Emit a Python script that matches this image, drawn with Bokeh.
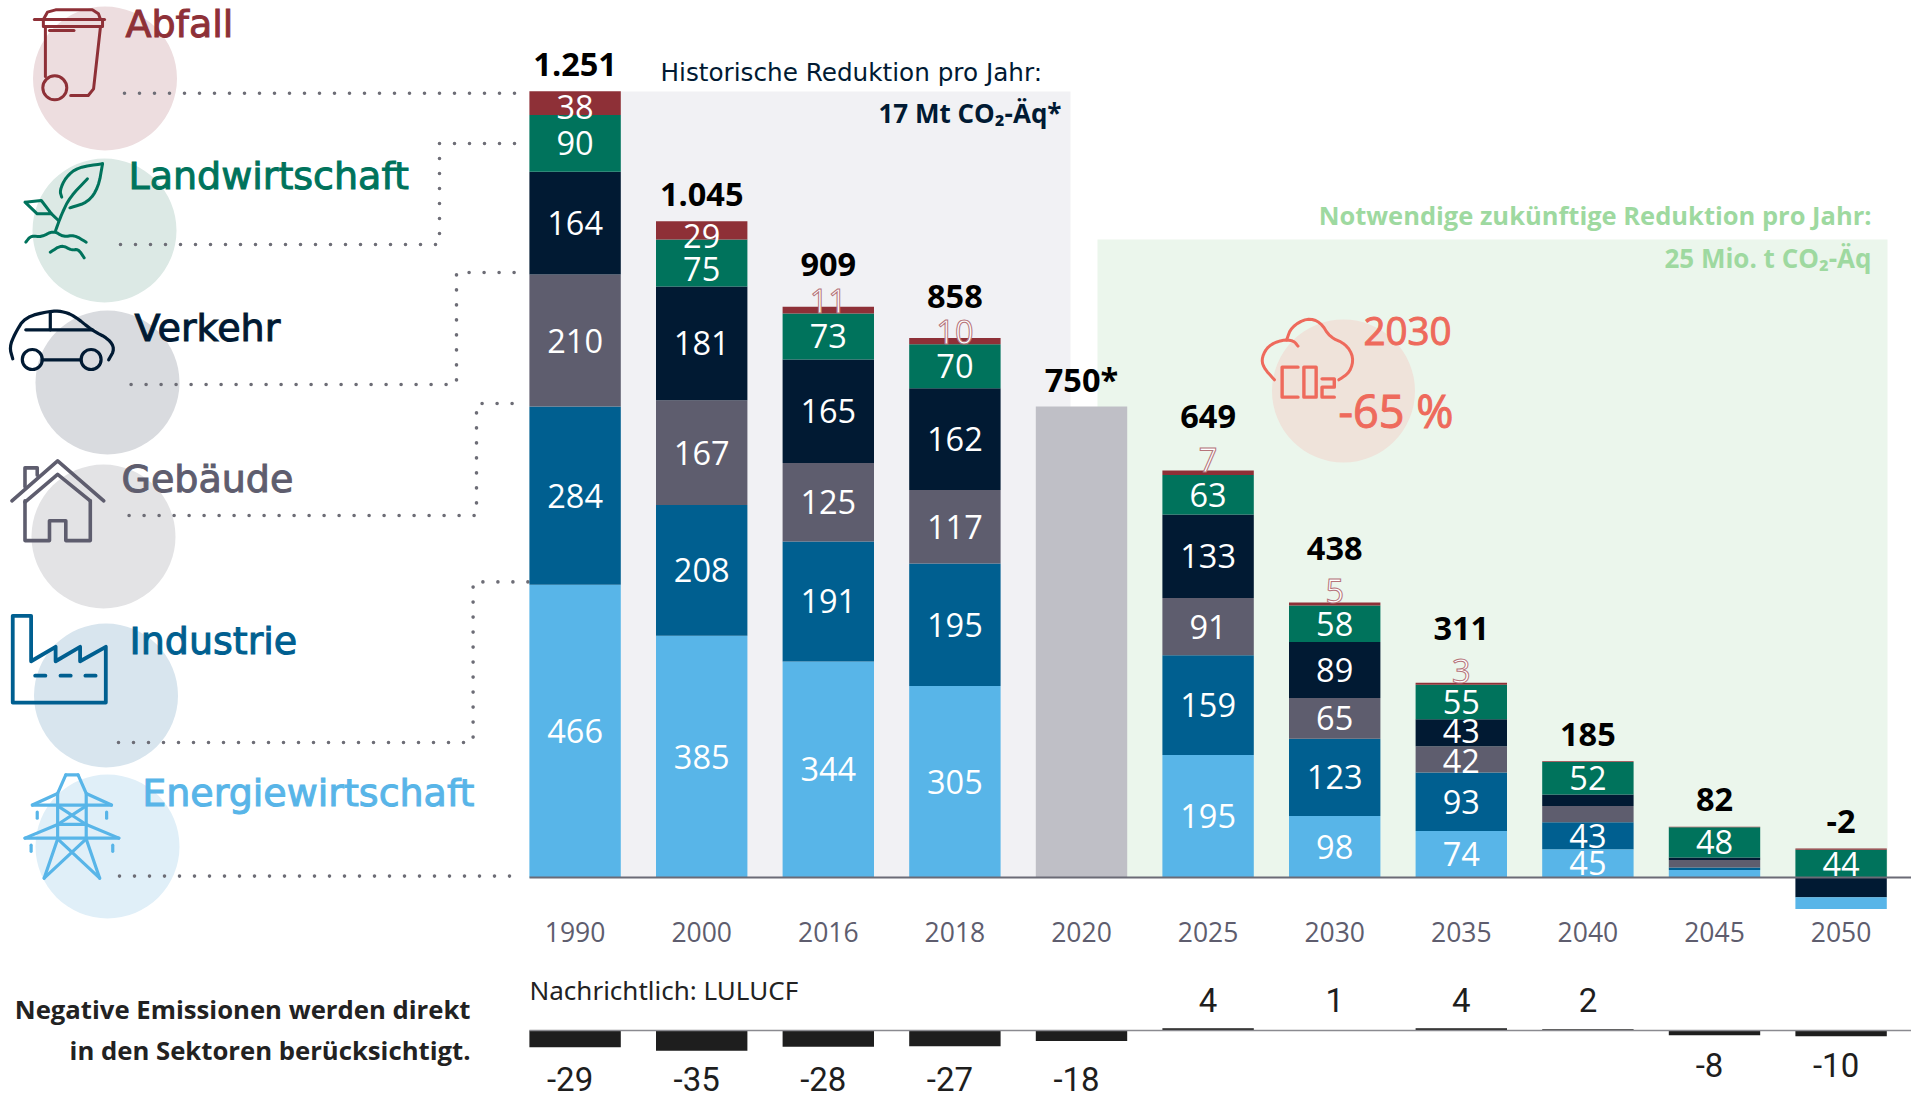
from bokeh.plotting import figure
from bokeh.models import Range1d, LinearAxis, FixedTicker
from bokeh.core.properties import value
from bokeh.embed import file_html
from bokeh.resources import INLINE
import numpy as np

# ---------- data ----------
years = ["1990", "2000", "2016", "2018", "2020", "2025", "2030", "2035", "2040", "2045", "2050"]
energie = [466, 385, 344, 305, 0, 195, 98, 74, 45, 12, -18]
industrie = [284, 208, 191, 195, 0, 159, 123, 93, 43, 4, -1]
gebaeude = [210, 167, 125, 117, 0, 91, 65, 42, 26, 12, 0]
verkehr = [164, 181, 165, 162, 0, 133, 89, 43, 18, 4, -31]
landwirtschaft = [90, 75, 73, 70, 0, 63, 58, 55, 52, 48, 44]
abfall = [38, 29, 11, 10, 0, 7, 5, 3, 1, 1, 2]
unallocated = [0, 0, 0, 0, 750, 0, 0, 0, 0, 0, 0]
totals = ["1.251", "1.045", "909", "858", "750*", "649", "438", "311", "185", "82", "-2"]
lulucf = [-29, -35, -28, -27, -18, 4, 1, 4, 2, -8, -10]
sector_names = ["Abfall", "Landwirtschaft", "Verkehr", "Gebäude", "Industrie", "Energiewirtschaft"]

C_ABF, C_LAN, C_VER, C_GEB, C_IND, C_ENE = "#8e3037", "#00735c", "#011a33", "#5e5d6e", "#005f90", "#58b5e8"
C_RED = "#ee6a5c"
FONT = "Open Sans"
HEAD = "DejaVu Sans"

# ---------- page geometry: pixel position of the scales ----------
W, H, M = 1911, 1098, 0
X0, DX = 574.6, 126.6      # centre of first bar, bar pitch
Y0, KY = 877.0, 0.628      # baseline, px per Mt
Y1, KL = 1030.0, 0.58      # LULUCF baseline, px per Mt

p = figure(width=W - 2 * M, height=H - 2 * M, output_backend="svg", toolbar_location=None,
           x_range=Range1d((M - X0) / DX, (W - M - X0) / DX),
           y_range=Range1d((Y0 - (H - M)) / KY, (Y0 - M) / KY),
           x_axis_location=None, y_axis_location=None, min_border=0,
           outline_line_color=None, background_fill_color="white", border_fill_color="white")
p.grid.visible = False
p.extra_x_ranges["px"] = Range1d(M, W - M)
p.extra_y_ranges["px"] = Range1d(H - M, M)
p.extra_y_ranges["lulucf"] = Range1d((Y1 - (H - M)) / KL, (Y1 - M) / KL)
PX = dict(x_range_name="px", y_range_name="px")


def txt(x, y, s, color, size, align="left", bold=False, font=FONT, base="alphabetic", heavy=False):
    extra = dict(text_outline_color=color) if heavy else {}
    p.text(x=[x], y=[y], text=[s], text_color=color, text_font_size=f"{size}px",
           text_align=align, text_baseline=base, text_font=value(font),
           text_font_style="bold" if bold else "normal", **extra, **PX)


def chaikin(pts, n=2):
    pts = np.asarray(pts, float)
    for _ in range(n):
        a, b = pts[:-1], pts[1:]
        q, r = a * .75 + b * .25, a * .25 + b * .75
        m = np.empty((len(q) * 2, 2))
        m[0::2], m[1::2] = q, r
        pts = np.vstack([pts[0], m, pts[-1]])
    return pts


def poly(pts, color, w=3.0, tf=None, smooth=False):
    pts = [tf(*q) for q in pts] if tf else pts
    a = chaikin(pts) if smooth else np.asarray(pts, float)
    p.line(a[:, 0], a[:, 1], line_color=color, line_width=w, line_join="round", line_cap="round", **PX)


z1 = lambda x, y: (x / 2.45, y / 3)
z2 = lambda x, y: (x / 2.45, 450 + y / 2.42)
z3 = lambda x, y: (1200 + x / 2.205, 180 + y / 3)

# ---------- background panels ----------
p.quad(left=[620], right=[1070], top=[91], bottom=[Y0], fill_color="#f1f1f4", line_color=None, **PX)
p.quad(left=[1097], right=[1887], top=[239], bottom=[Y0], fill_color="#ebf6ec", line_color=None, **PX)

# ---------- sector circles ----------
cx = [104.5, 104, 107, 103, 105.5, 107]
cy = [78, 230, 382, 536, 695, 846]
cc = ["#eddddf", "#dce9e5", "#d9dbdf", "#e3e3e5", "#d8e5ee", "#e0eff8"]
p.scatter(cx, cy, size=144, marker="circle", fill_color=cc, line_color=None, **PX)
p.scatter([1343], [390.5], size=143, marker="circle", fill_color="#efe3da", line_color=None, **PX)

# ---------- dotted connectors ----------
DOT = dict(line_color="#6d6d76", line_width=3.6, line_dash="0 15", line_cap="round", line_join="round")
paths = [
    [(124, 92.7), (518, 92.7)],
    [(120, 244), (439, 244), (439, 143), (518, 143)],
    [(130.6, 384), (456, 384), (456, 272), (518, 272)],
    [(128.6, 515), (476, 515), (476, 403), (518, 403)],
    [(118, 742), (472.6, 742), (472.6, 581.4), (532, 581.4)],
    [(119, 875.6), (515, 875.6)],
]
for q in paths:
    a = np.array(q)
    p.line(a[:, 0], a[:, 1], **DOT, **PX)

# ---------- sector labels ----------
lx = [125, 128, 134, 121, 129, 141.7]
ly = [23.5, 175.5, 327, 478.5, 640, 792]
lc = [C_ABF, C_LAN, C_VER, C_GEB, C_IND, C_ENE]
for n, x, y, c in zip(sector_names, lx, ly, lc):
    txt(x, y, n, c, 38, font=HEAD, heavy=True)

# ---------- icons ----------
# bin
poly([(83, 57), (255, 57)], C_ABF, tf=z1)
poly([(105, 57), (115, 35), (135, 28), (225, 28), (240, 40), (245, 57)], C_ABF, tf=z1)
poly([(105, 57), (105, 78), (250, 78), (250, 57)], C_ABF, tf=z1)
poly([(120, 90), (180, 90)], C_ABF, tf=z1)
poly([(110, 78), (110, 228)], C_ABF, tf=z1)
poly([(245, 78), (228, 265), (215, 285), (172, 285)], C_ABF, tf=z1)
p.scatter([54.3], [87.3], size=24, marker="circle", fill_color=None, line_color=C_ABF, line_width=3, **PX)
# plant
poly([(250, 490), (190, 500), (160, 530), (145, 570), (150, 590)], C_LAN, tf=z1, smooth=True)
poly([(250, 490), (240, 560), (215, 605), (170, 622)], C_LAN, tf=z1, smooth=True)
poly([(213, 535), (170, 590), (150, 640), (135, 690)], C_LAN, tf=z1, smooth=True)
poly([(60, 605), (100, 600), (125, 640), (90, 640), (60, 605)], C_LAN, tf=z1)
poly([(125, 640), (142, 660)], C_LAN, tf=z1)
poly([(62, 725), (75, 705), (100, 710), (130, 690), (155, 710), (180, 703), (210, 725)], C_LAN, tf=z1, smooth=True)
poly([(122, 755), (150, 733), (175, 750), (190, 745), (205, 772)], C_LAN, tf=z1, smooth=True)
# car
poly([(30, 1075), (22, 1040), (35, 1000), (60, 950), (120, 932), (150, 932), (180, 945), (225, 990), (265, 1015),
      (280, 1045), (265, 1078)], C_VER, tf=z1, smooth=True, w=3.2)
poly([(62, 988), (225, 988)], C_VER, tf=z1, w=3.2)
poly([(122, 935), (122, 988)], C_VER, tf=z1, w=3.2)
poly([(102, 1078), (197, 1078)], C_VER, tf=z1, w=3.2)
p.scatter([31.8, 90.6], [359, 359], size=20, marker="circle", fill_color=None, line_color=C_VER, line_width=3.2, **PX)
# house
poly([(28, 122), (140, 25), (253, 122)], C_GEB, tf=z2, w=3.6)
poly([(60, 88), (60, 42), (90, 42), (90, 60)], C_GEB, tf=z2, w=3.6)
poly([(60, 122), (60, 218), (120, 218), (120, 170), (160, 170), (160, 218), (220, 218), (220, 122)], C_GEB, tf=z2, w=3.6)
poly([(60, 125), (140, 58), (220, 122)], C_GEB, tf=z2, w=3.6)
# factory
poly([(30, 400), (75, 400), (75, 510), (135, 475), (135, 510), (195, 475), (195, 510), (258, 475), (258, 610),
      (30, 610), (30, 400)], C_IND, tf=z2, w=3.8)
for a, b in [(85, 110), (147, 172), (208, 233)]:
    poly([(a, 545), (b, 545)], C_IND, tf=z2, w=3.8)
# pylon
for q in [[(160, 785), (190, 785)], [(160, 785), (140, 830), (140, 940), (107, 1035)],
          [(190, 785), (210, 830), (210, 940), (243, 1035)], [(78, 858), (272, 858)], [(78, 858), (140, 830)],
          [(272, 858), (210, 830)], [(60, 938), (290, 938)], [(60, 938), (140, 905)], [(290, 938), (210, 905)],
          [(140, 860), (210, 905)], [(210, 860), (140, 905)], [(140, 905), (210, 905)], [(140, 940), (243, 1035)],
          [(210, 940), (107, 1035)], [(90, 875), (90, 890)], [(260, 875), (260, 890)],
          [(75, 955), (75, 970)], [(275, 955), (275, 970)]]:
    poly(q, C_ENE, tf=z2, w=3.2)
# cloud CO2
poly([(163, 598), (138, 560), (135, 530), (150, 495), (180, 478), (205, 480), (215, 497)], C_RED, tf=z3, smooth=True)
poly([(190, 478), (200, 440), (235, 412), (265, 425), (285, 470), (320, 490), (338, 530), (330, 575), (305, 598)],
     C_RED, tf=z3, smooth=True)
poly([(215, 560), (180, 560), (180, 650), (215, 650)], C_RED, tf=z3, w=3.4)
poly([(228, 560), (255, 560), (255, 650), (228, 650), (228, 560)], C_RED, tf=z3, w=3.4)
poly([(268, 595), (295, 595), (295, 620), (268, 620), (268, 650), (295, 650)], C_RED, tf=z3, w=3.4)
txt(1363, 330, "2030", C_RED, 38.5, heavy=True)
txt(1338, 410, "-65 %", C_RED, 45, heavy=True)

# ---------- stacked bars ----------
x = np.arange(len(years))
series = [(energie, C_ENE), (industrie, C_IND), (gebaeude, C_GEB), (verkehr, C_VER),
          (landwirtschaft, C_LAN), (abfall, C_ABF), (unallocated, "#bfbfc6")]
BW = 91.4 / DX
pos = np.zeros(len(years))
lab_x, lab_y, lab_t, lab_o = [], [], [], []
top_small = []
nudge = {(0, "38"): 3.5, (1, "29"): 6, (1, "75"): 6, (7, "43"): -2, (7, "42"): 2}
for vals, col in series:
    v = np.array(vals, float)
    up = np.where(v > 0, v, 0)
    p.vbar(x=x, bottom=pos, top=pos + up, width=BW, fill_color=col, line_color=None)
    for i in range(len(v)):
        if v[i] >= 28 and col != "#bfbfc6":
            s = str(int(v[i]))
            lab_x.append(i); lab_y.append(pos[i] + v[i] / 2); lab_t.append(s); lab_o.append(nudge.get((i, s), 0))
        if col == C_ABF and 3 <= v[i] < 28:
            top_small.append((i, pos[i] + v[i] / 2, str(int(v[i]))))
    pos = pos + up
neg = np.zeros(len(years))
for vals, col in [(verkehr, C_VER), (industrie, C_IND), (energie, C_ENE)]:
    v = np.array(vals, float)
    dn = np.where(v < 0, v, 0)
    p.vbar(x=x, bottom=neg + dn, top=neg, width=BW, fill_color=col, line_color=None)
    neg = neg + dn

p.text(x=lab_x, y=lab_y, text=lab_t, y_offset=lab_o, text_color="white", text_font_size="32.5px", text_align="center",
       text_baseline="middle", text_font=value(FONT))
p.text(x=[t[0] for t in top_small], y=[t[1] for t in top_small], text=[t[2] for t in top_small],
       y_offset=[-9 if len(t[2]) == 2 else -13 for t in top_small],
       text_color="white", text_outline_color="#b5747a", text_font_size="32.5px", text_align="center",
       text_baseline="middle", text_font=value(FONT))

# totals
tot_off = []
small = {t[0]: t[2] for t in top_small}
for i in range(len(years)):
    tot_off.append(27 if i not in small else (42 if len(small[i]) == 2 else 54))
p.text(x=x, y=pos, text=totals, y_offset=[-o for o in tot_off], text_color="black", text_font_size="32.5px",
       text_font_style="bold", text_align="center", text_baseline="middle", text_font=value(FONT))

# year axis
ax = LinearAxis(ticker=FixedTicker(ticks=list(range(len(years)))), fixed_location=0,
                major_label_overrides={i: y for i, y in enumerate(years)},
                axis_line_color=None, major_tick_line_color=None, minor_tick_line_color=None,
                major_label_text_color=C_GEB, major_label_text_font=FONT, major_label_text_font_size="26.5px",
                major_label_standoff=38)
p.add_layout(ax, "below")

# baseline
p.segment(x0=[529], x1=[W], y0=[Y0], y1=[Y0], line_color="#6b6b76", line_width=2, **PX)

# ---------- LULUCF ----------
lv = np.array(lulucf, float)
p.vbar(x=x, bottom=np.minimum(lv, 0), top=np.maximum(lv, 0), width=BW, fill_color="#1e1e1e", line_color=None,
       y_range_name="lulucf")
p.segment(x0=[529], x1=[W], y0=[Y1], y1=[Y1], line_color="#8a8a90", line_width=1.6, **PX)
txt(529, 989, "Nachrichtlich: LULUCF", "#222222", 26, font="Noto Sans")
for i, v in enumerate(lulucf):
    yy = 999 if v > 0 else (1078 if v < -10 else 1064)
    p.text(x=[i], y=[yy], x_offset=0 if v > 0 else -5, text=[str(v)], text_color="#1e1e1e", text_font_size="33px",
           text_align="center", text_baseline="middle", text_font=value("Roboto"), y_range_name="px")

# ---------- notes ----------
txt(660, 71.5, "Historische Reduktion pro Jahr:", C_VER, 24.7, font=HEAD)
txt(1061, 112, "17 Mt CO₂-Äq*", C_VER, 26, align="right", bold=True)
txt(1871, 214, "Notwendige zukünftige Reduktion pro Jahr:", "#9ed9a0", 25.5, align="right", bold=True)
txt(1871, 257, "25 Mio. t CO₂-Äq", "#9ed9a0", 26, align="right", bold=True)
txt(470, 1008.5, "Negative Emissionen werden direkt", "#222222", 25.7, align="right", bold=True)
txt(470, 1050, "in den Sektoren berücksichtigt.", "#222222", 25.7, align="right", bold=True)

open("out.html", "w").write(file_html(p, INLINE))
